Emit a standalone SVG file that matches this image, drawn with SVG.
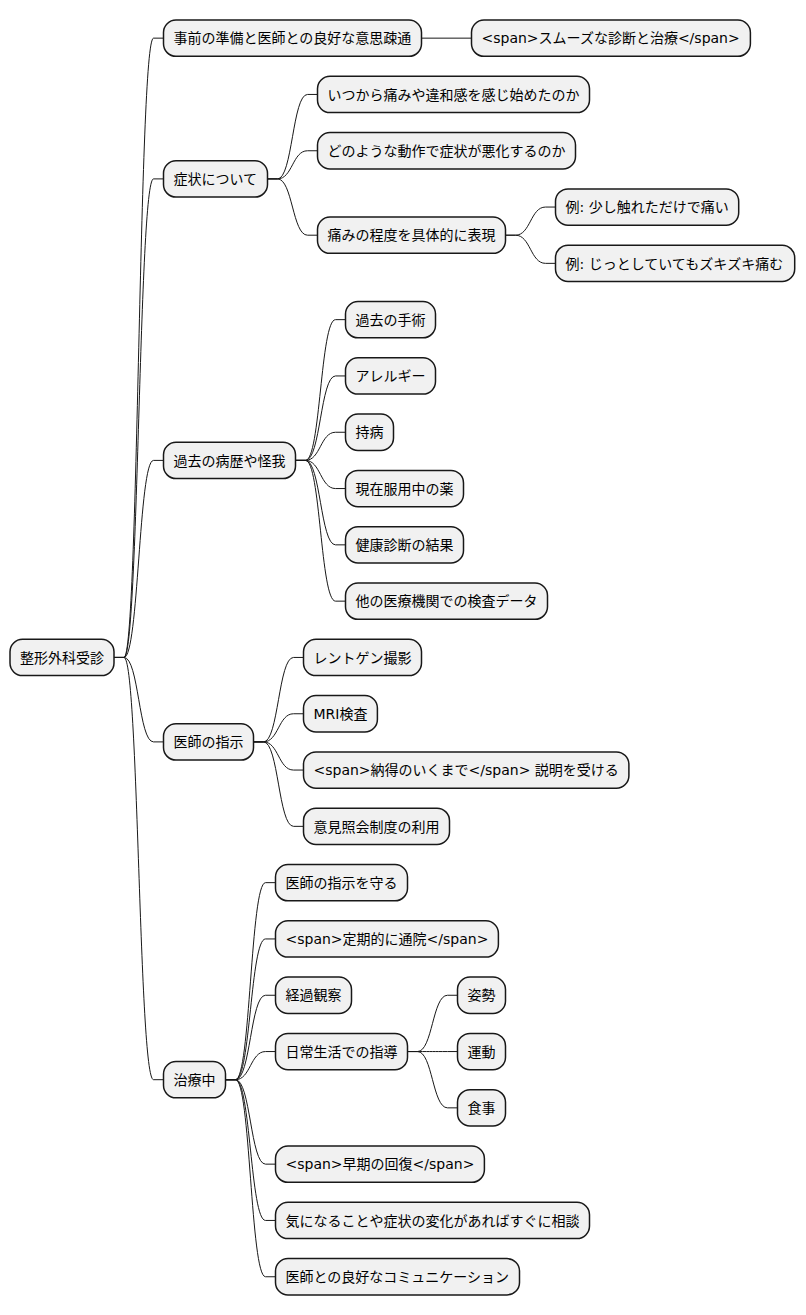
<svg xmlns="http://www.w3.org/2000/svg" width="806" height="1315" viewBox="0 0 806 1315">
<style>
.n rect{fill:#F1F1F1;stroke:#181818;stroke-width:1.5}
.n text{font-family:"DejaVu Sans","Noto Sans CJK JP",sans-serif;font-size:14px;fill:#000000}
.c path{fill:none;stroke:#181818;stroke-width:1}
</style>
<rect x="0" y="0" width="806" height="1315" fill="#FFFFFF"/>
<g class="c" id="connectors">
<path d="M114,657.45 L124,657.45 C138.75,657.45 138.75,38.15 153.5,38.15 L163.5,38.15"/>
<path d="M114,657.45 L124,657.45 C138.75,657.45 138.75,178.9 153.5,178.9 L163.5,178.9"/>
<path d="M114,657.45 L124,657.45 C138.75,657.45 138.75,460.4 153.5,460.4 L163.5,460.4"/>
<path d="M114,657.45 L124,657.45 C138.75,657.45 138.75,741.9 153.5,741.9 L163.5,741.9"/>
<path d="M114,657.45 L124,657.45 C138.75,657.45 138.75,1079.7 153.5,1079.7 L163.5,1079.7"/>
<path d="M421.5,38.15 L471.5,38.15"/>
<path d="M267.5,178.9 L277.5,178.9 C292.5,178.9 292.5,94.45 307.5,94.45 L317.5,94.45"/>
<path d="M267.5,178.9 L277.5,178.9 C292.5,178.9 292.5,150.75 307.5,150.75 L317.5,150.75"/>
<path d="M267.5,178.9 L277.5,178.9 C292.5,178.9 292.5,235.2 307.5,235.2 L317.5,235.2"/>
<path d="M505.5,235.2 L515.5,235.2 C530.5,235.2 530.5,207.05 545.5,207.05 L555.5,207.05"/>
<path d="M505.5,235.2 L515.5,235.2 C530.5,235.2 530.5,263.35 545.5,263.35 L555.5,263.35"/>
<path d="M295.5,460.4 L305.5,460.4 C320.5,460.4 320.5,319.65 335.5,319.65 L345.5,319.65"/>
<path d="M295.5,460.4 L305.5,460.4 C320.5,460.4 320.5,375.95 335.5,375.95 L345.5,375.95"/>
<path d="M295.5,460.4 L305.5,460.4 C320.5,460.4 320.5,432.25 335.5,432.25 L345.5,432.25"/>
<path d="M295.5,460.4 L305.5,460.4 C320.5,460.4 320.5,488.55 335.5,488.55 L345.5,488.55"/>
<path d="M295.5,460.4 L305.5,460.4 C320.5,460.4 320.5,544.85 335.5,544.85 L345.5,544.85"/>
<path d="M295.5,460.4 L305.5,460.4 C320.5,460.4 320.5,601.15 335.5,601.15 L345.5,601.15"/>
<path d="M253.5,741.9 L263.5,741.9 C278.5,741.9 278.5,657.45 293.5,657.45 L303.5,657.45"/>
<path d="M253.5,741.9 L263.5,741.9 C278.5,741.9 278.5,713.75 293.5,713.75 L303.5,713.75"/>
<path d="M253.5,741.9 L263.5,741.9 C278.5,741.9 278.5,770.05 293.5,770.05 L303.5,770.05"/>
<path d="M253.5,741.9 L263.5,741.9 C278.5,741.9 278.5,826.35 293.5,826.35 L303.5,826.35"/>
<path d="M225.5,1079.7 L235.5,1079.7 C250.5,1079.7 250.5,882.65 265.5,882.65 L275.5,882.65"/>
<path d="M225.5,1079.7 L235.5,1079.7 C250.5,1079.7 250.5,938.95 265.5,938.95 L275.5,938.95"/>
<path d="M225.5,1079.7 L235.5,1079.7 C250.5,1079.7 250.5,995.25 265.5,995.25 L275.5,995.25"/>
<path d="M225.5,1079.7 L235.5,1079.7 C250.5,1079.7 250.5,1051.55 265.5,1051.55 L275.5,1051.55"/>
<path d="M225.5,1079.7 L235.5,1079.7 C250.5,1079.7 250.5,1164.15 265.5,1164.15 L275.5,1164.15"/>
<path d="M225.5,1079.7 L235.5,1079.7 C250.5,1079.7 250.5,1220.45 265.5,1220.45 L275.5,1220.45"/>
<path d="M225.5,1079.7 L235.5,1079.7 C250.5,1079.7 250.5,1276.75 265.5,1276.75 L275.5,1276.75"/>
<path d="M407.5,1051.55 L417.5,1051.55 C432.5,1051.55 432.5,995.25 447.5,995.25 L457.5,995.25"/>
<path d="M407.5,1051.55 L417.5,1051.55 C432.5,1051.55 432.5,1051.55 447.5,1051.55 L457.5,1051.55"/>
<path d="M407.5,1051.55 L417.5,1051.55 C432.5,1051.55 432.5,1107.85 447.5,1107.85 L457.5,1107.85"/>
</g>
<g class="n" id="root"><rect x="10" y="639.3" width="104" height="36.3" rx="12.5"/><text x="20" y="662.6">整形外科受診</text></g>
<g class="n" id="n1"><rect x="163.5" y="20" width="258" height="36.3" rx="12.5"/><text x="173.5" y="43.3">事前の準備と医師との良好な意思疎通</text></g>
<g class="n" id="n1a"><rect x="471.5" y="20" width="278.9" height="36.3" rx="12.5"/><text x="481.5" y="43.3">&lt;span&gt;スムーズな診断と治療&lt;/span&gt;</text></g>
<g class="n" id="n2"><rect x="163.5" y="160.75" width="104" height="36.3" rx="12.5"/><text x="173.5" y="184.05">症状について</text></g>
<g class="n" id="n2a"><rect x="317.5" y="76.3" width="272" height="36.3" rx="12.5"/><text x="327.5" y="99.6">いつから痛みや違和感を感じ始めたのか</text></g>
<g class="n" id="n2b"><rect x="317.5" y="132.6" width="258" height="36.3" rx="12.5"/><text x="327.5" y="155.9">どのような動作で症状が悪化するのか</text></g>
<g class="n" id="n2c"><rect x="317.5" y="217.05" width="188" height="36.3" rx="12.5"/><text x="327.5" y="240.35">痛みの程度を具体的に表現</text></g>
<g class="n" id="n2c1"><rect x="555.5" y="188.9" width="183.2" height="36.3" rx="12.5"/><text x="565.5" y="212.2">例: 少し触れただけで痛い</text></g>
<g class="n" id="n2c2"><rect x="555.5" y="245.2" width="239.2" height="36.3" rx="12.5"/><text x="565.5" y="268.5">例: じっとしていてもズキズキ痛む</text></g>
<g class="n" id="n3"><rect x="163.5" y="442.25" width="132" height="36.3" rx="12.5"/><text x="173.5" y="465.55">過去の病歴や怪我</text></g>
<g class="n" id="n3a"><rect x="345.5" y="301.5" width="90" height="36.3" rx="12.5"/><text x="355.5" y="324.8">過去の手術</text></g>
<g class="n" id="n3b"><rect x="345.5" y="357.8" width="90" height="36.3" rx="12.5"/><text x="355.5" y="381.1">アレルギー</text></g>
<g class="n" id="n3c"><rect x="345.5" y="414.1" width="48" height="36.3" rx="12.5"/><text x="355.5" y="437.4">持病</text></g>
<g class="n" id="n3d"><rect x="345.5" y="470.4" width="118" height="36.3" rx="12.5"/><text x="355.5" y="493.7">現在服用中の薬</text></g>
<g class="n" id="n3e"><rect x="345.5" y="526.7" width="118" height="36.3" rx="12.5"/><text x="355.5" y="550">健康診断の結果</text></g>
<g class="n" id="n3f"><rect x="345.5" y="583" width="202" height="36.3" rx="12.5"/><text x="355.5" y="606.3">他の医療機関での検査データ</text></g>
<g class="n" id="n4"><rect x="163.5" y="723.75" width="90" height="36.3" rx="12.5"/><text x="173.5" y="747.05">医師の指示</text></g>
<g class="n" id="n4a"><rect x="303.5" y="639.3" width="118" height="36.3" rx="12.5"/><text x="313.5" y="662.6">レントゲン撮影</text></g>
<g class="n" id="n4b"><rect x="303.5" y="695.6" width="73.9" height="36.3" rx="12.5"/><text x="313.5" y="718.9">MRI検査</text></g>
<g class="n" id="n4c"><rect x="303.5" y="751.9" width="325.4" height="36.3" rx="12.5"/><text x="313.5" y="775.2">&lt;span&gt;納得のいくまで&lt;/span&gt; 説明を受ける</text></g>
<g class="n" id="n4d"><rect x="303.5" y="808.2" width="146" height="36.3" rx="12.5"/><text x="313.5" y="831.5">意見照会制度の利用</text></g>
<g class="n" id="n5"><rect x="163.5" y="1061.55" width="62" height="36.3" rx="12.5"/><text x="173.5" y="1084.85">治療中</text></g>
<g class="n" id="n5a"><rect x="275.5" y="864.5" width="132" height="36.3" rx="12.5"/><text x="285.5" y="887.8">医師の指示を守る</text></g>
<g class="n" id="n5b"><rect x="275.5" y="920.8" width="222.9" height="36.3" rx="12.5"/><text x="285.5" y="944.1">&lt;span&gt;定期的に通院&lt;/span&gt;</text></g>
<g class="n" id="n5c"><rect x="275.5" y="977.1" width="76" height="36.3" rx="12.5"/><text x="285.5" y="1000.4">経過観察</text></g>
<g class="n" id="n5d"><rect x="275.5" y="1033.4" width="132" height="36.3" rx="12.5"/><text x="285.5" y="1056.7">日常生活での指導</text></g>
<g class="n" id="n5d1"><rect x="457.5" y="977.1" width="48" height="36.3" rx="12.5"/><text x="467.5" y="1000.4">姿勢</text></g>
<g class="n" id="n5d2"><rect x="457.5" y="1033.4" width="48" height="36.3" rx="12.5"/><text x="467.5" y="1056.7">運動</text></g>
<g class="n" id="n5d3"><rect x="457.5" y="1089.7" width="48" height="36.3" rx="12.5"/><text x="467.5" y="1113">食事</text></g>
<g class="n" id="n5e"><rect x="275.5" y="1146" width="208.9" height="36.3" rx="12.5"/><text x="285.5" y="1169.3">&lt;span&gt;早期の回復&lt;/span&gt;</text></g>
<g class="n" id="n5f"><rect x="275.5" y="1202.3" width="314" height="36.3" rx="12.5"/><text x="285.5" y="1225.6">気になることや症状の変化があればすぐに相談</text></g>
<g class="n" id="n5g"><rect x="275.5" y="1258.6" width="244" height="36.3" rx="12.5"/><text x="285.5" y="1281.9">医師との良好なコミュニケーション</text></g>
</svg>
